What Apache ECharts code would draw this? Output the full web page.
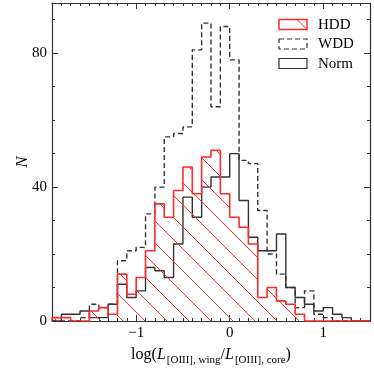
<!DOCTYPE html>
<html>
<head>
<meta charset="utf-8">
<script src="https://cdn.jsdelivr.net/npm/echarts@6/dist/echarts.min.js"></script>
<style>
  html, body { margin: 0; padding: 0; background: #fff; }
  #main { width: 374px; height: 374px; }
</style>
</head>
<body>
<div id="main"></div>
<script>
// bin edges (width 0.1) and counts per bin
var binEdges = [-1.9, -1.8, -1.7, -1.6, -1.5, -1.4, -1.3, -1.2, -1.1, -1.0,
  -0.9, -0.8, -0.7, -0.6, -0.5, -0.4, -0.3, -0.2, -0.1, 0.0,
  0.1, 0.2, 0.3, 0.4, 0.5, 0.6, 0.7, 0.8, 0.9, 1.0,
  1.1, 1.2, 1.3, 1.4, 1.5];
var hddCounts = [1, 1, 0, 0, 3, 4, 2, 14, 8, 13, 21, 35, 31, 39, 46, 38, 49, 51, 38, 31,
  28, 23, 7, 10, 6, 5, 2, 0, 0, 0, 0, 0, 0, 0];
var wddCounts = [0, 0, 0, 1, 5, 4, 5, 18, 21, 22, 32, 40, 55, 56, 58, 81, 89, 64, 88, 78,
  48, 47, 33, 20, 14, 10, 4, 9, 2, 1, 0, 0, 0, 0];
var normCounts = [0, 2, 2, 3, 1, 1, 5, 11, 7, 9, 16, 15, 13, 23, 37, 31, 40, 43, 43, 50,
  36, 25, 21, 21, 26, 10, 7, 5, 3, 4, 2, 1, 0, 0];
var xMajorTicks = [-1, 0, 1];
var legendNames = ['HDD', 'WDD', 'Norm'];

var serif = 'Liberation Serif';
var frameColor = '#333';
var red = '#ff2a2a';

// hatch pattern '\\'
function makeHatch(s) {
  var c = document.createElement('canvas');
  c.width = s; c.height = s;
  var ctx = c.getContext('2d');
  ctx.strokeStyle = red;
  ctx.lineWidth = 1;
  ctx.beginPath();
  ctx.moveTo(-2, -2); ctx.lineTo(s + 2, s + 2);
  ctx.moveTo(-2, s - 2); ctx.lineTo(2, s + 2);
  ctx.moveTo(s - 2, -2); ctx.lineTo(s + 2, 2);
  ctx.stroke();
  return c;
}
var hatch = makeHatch(22);

// histogram outline points for step:'end'
function stepData(counts) {
  var pts = [[binEdges[0], 0]];
  for (var i = 0; i < counts.length; i++) {
    pts.push([binEdges[i], counts[i]]);
  }
  pts.push([binEdges[binEdges.length - 1], 0]);
  return pts;
}

var chart = echarts.init(document.getElementById('main'));

var xMin = binEdges[0], xMax = binEdges[binEdges.length - 1];
function isInt(v) { return Math.abs(v - Math.round(v)) < 1e-6; }

function xAxisCfg(pos, major, labels) {
  return {
    type: 'value', position: pos, min: xMin, max: xMax,
    interval: major ? undefined : 0.1,
    axisLine: { show: !major, onZero: false, lineStyle: { color: frameColor, width: 1.2 } },
    axisTick: major ? { show: true, inside: true, length: 6, customValues: xMajorTicks, lineStyle: { color: frameColor } }
                    : { show: true, inside: true, length: 3, lineStyle: { color: frameColor } },
    axisLabel: labels ? {
      show: true, color: '#000', fontFamily: serif, fontSize: 15, margin: 5,
      formatter: function (v) {
        if (!isInt(v)) return '';
        var r = Math.round(v);
        return r < 0 ? '\u2212' + (-r) : String(r);
      }
    } : { show: false },
    splitLine: { show: false }
  };
}
function yAxisCfg(pos, step, len, labels, line) {
  return {
    type: 'value', position: pos, min: 0, max: 95, interval: step,
    axisLine: { show: line, onZero: false, lineStyle: { color: frameColor, width: 1.2 } },
    axisTick: { show: true, inside: true, length: len, lineStyle: { color: frameColor } },
    axisLabel: labels ? {
      show: true, color: '#000', fontFamily: serif, fontSize: 15, margin: 5,
      formatter: function (v) { return v % 40 === 0 ? String(v) : ''; }
    } : { show: false },
    splitLine: { show: false }
  };
}

var xAxes = [
  xAxisCfg('bottom', false, true),
  xAxisCfg('bottom', true, false),
  xAxisCfg('top', false, false),
  xAxisCfg('top', true, false)
];
xAxes[0].name = '{m|log(}{i|L}{s|[OIII], wing}{m|/}{i|L}{s|[OIII], core}{m|)}';
xAxes[0].nameLocation = 'middle';
xAxes[0].nameGap = 26;
xAxes[0].nameMoveOverlap = false;
xAxes[0].nameTextStyle = {
  fontFamily: serif, color: '#000',
  rich: {
    m: { fontFamily: serif, fontSize: 16, color: '#000', verticalAlign: 'bottom', padding: [0, 0, 3, 0] },
    i: { fontFamily: serif, fontSize: 16, fontStyle: 'italic', color: '#000', verticalAlign: 'bottom', padding: [0, 1, 3, 0] },
    s: { fontFamily: serif, fontSize: 11, color: '#000', verticalAlign: 'bottom' }
  }
};

var yAxes = [
  yAxisCfg('left', 40, 6, true, true),
  yAxisCfg('left', 10, 3, false, false),
  yAxisCfg('right', 40, 6, false, true),
  yAxisCfg('right', 10, 3, false, false)
];
yAxes[0].name = 'N';
yAxes[0].nameLocation = 'middle';
yAxes[0].nameGap = 21;
yAxes[0].nameMoveOverlap = false;
yAxes[0].nameTextStyle = { fontFamily: serif, fontSize: 17, fontStyle: 'italic', color: '#000' };

var option = {
  animation: false,
  backgroundColor: '#fff',
  grid: { left: 52, right: 4, top: 3, bottom: 53, containLabel: false },
  xAxis: xAxes,
  yAxis: yAxes,
  series: [
    {
      name: legendNames[1], type: 'line', step: 'end', data: stepData(wddCounts),
      symbol: 'none', z: 2,
      lineStyle: { color: frameColor, width: 1.4, type: [5, 3] }
    },
    {
      name: legendNames[2], type: 'line', step: 'end', data: stepData(normCounts),
      symbol: 'none', z: 3,
      lineStyle: { color: frameColor, width: 1.4 }
    },
    {
      name: legendNames[0], type: 'line', step: 'end', data: stepData(hddCounts),
      symbol: 'none', z: 4,
      lineStyle: { color: red, width: 1.6 },
      areaStyle: { color: { image: hatch, repeat: 'repeat' }, opacity: 1 }
    }
  ],
  graphic: [
    { type: 'rect', shape: { x: 279, y: 19.5, width: 28, height: 10 },
      style: { fill: 'none', stroke: red, lineWidth: 1.5 } },
    { type: 'line', shape: { x1: 297, y1: 19.5, x2: 307, y2: 29.5 },
      style: { stroke: red, lineWidth: 1 } },
    { type: 'rect', shape: { x: 279, y: 39, width: 28, height: 10 },
      style: { fill: 'none', stroke: frameColor, lineWidth: 1.2, lineDash: [5, 3] } },
    { type: 'rect', shape: { x: 279, y: 58.5, width: 28, height: 10 },
      style: { fill: 'none', stroke: frameColor, lineWidth: 1.2 } },
    { type: 'text', left: 318, top: 17.5, style: { text: legendNames[0], fontFamily: serif, fontSize: 15, fill: '#000' } },
    { type: 'text', left: 318, top: 37, style: { text: legendNames[1], fontFamily: serif, fontSize: 15, fill: '#000' } },
    { type: 'text', left: 318, top: 56.5, style: { text: legendNames[2], fontFamily: serif, fontSize: 15, fill: '#000' } }
  ]
};
chart.setOption(option);
</script>
</body>
</html>
